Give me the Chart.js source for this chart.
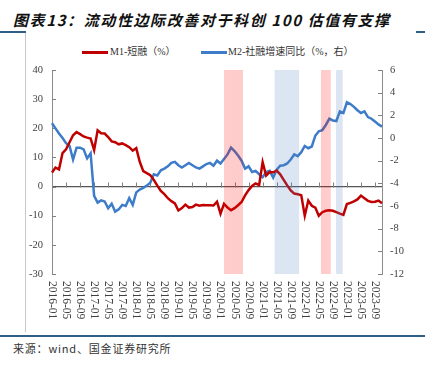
<!DOCTYPE html>
<html>
<head>
<meta charset="utf-8">
<script src="https://cdn.jsdelivr.net/npm/chart.js@4.4.0/dist/chart.umd.min.js"></script>
<style>
  html, body { margin: 0; padding: 0; background: #fff; }
  body { width: 425px; height: 367px; position: relative; overflow: hidden; font-family: "Liberation Serif", "Noto Sans CJK SC", serif; }
  #title { position: absolute; left: 13px; top: 10px; font: italic bold 15px "Noto Sans CJK SC", sans-serif; letter-spacing: 1.6px; color: #111; white-space: pre; line-height: 20px; }
  .rule { position: absolute; height: 2px; background: #2f5f86; }
  #frame { position: absolute; left: 25px; top: 33px; width: 1px; height: 299px; background: #c8c8c8; }
  .key { position: absolute; top: 51px; height: 3px; width: 26px; }
  .keytext { position: absolute; top: 45px; font-size: 10px; line-height: 14px; color: #333; white-space: nowrap; }
  #source { position: absolute; left: 13px; top: 340px; font: 11px "Noto Sans CJK SC", sans-serif; letter-spacing: 0.8px; color: #333; white-space: nowrap; }
  canvas { position: absolute; left: 0; top: 0; }
</style>
</head>
<body>
<div id="title">图表13：流动性边际改善对于科创 100 估值有支撑</div>
<div class="rule" style="left:0; top:31px; width:26px;"></div>
<div class="rule" style="left:416px; top:31px; width:9px;"></div>
<div id="frame"></div>
<div class="key" style="left:82px; background:#c00000;"></div>
<div class="keytext" style="left:110px;">M1-短融（%）</div>
<div class="key" style="left:201px; background:#3d7cc9;"></div>
<div class="keytext" style="left:228px;">M2-社融增速同比（%，右）</div>
<div class="rule" style="left:0; top:335px; width:425px;"></div>
<div id="source">来源：wind、国金证券研究所</div>
<canvas id="chart" width="425" height="367"></canvas>
<script>
// Months 2016-01 .. 2023-11
const months = [
  '2016-01','2016-02','2016-03','2016-04','2016-05','2016-06','2016-07','2016-08','2016-09','2016-10','2016-11','2016-12',
  '2017-01','2017-02','2017-03','2017-04','2017-05','2017-06','2017-07','2017-08','2017-09','2017-10','2017-11','2017-12',
  '2018-01','2018-02','2018-03','2018-04','2018-05','2018-06','2018-07','2018-08','2018-09','2018-10','2018-11','2018-12',
  '2019-01','2019-02','2019-03','2019-04','2019-05','2019-06','2019-07','2019-08','2019-09','2019-10','2019-11','2019-12',
  '2020-01','2020-02','2020-03','2020-04','2020-05','2020-06','2020-07','2020-08','2020-09','2020-10','2020-11','2020-12',
  '2021-01','2021-02','2021-03','2021-04','2021-05','2021-06','2021-07','2021-08','2021-09','2021-10','2021-11','2021-12',
  '2022-01','2022-02','2022-03','2022-04','2022-05','2022-06','2022-07','2022-08','2022-09','2022-10','2022-11','2022-12',
  '2023-01','2023-02','2023-03','2023-04','2023-05','2023-06','2023-07','2023-08','2023-09','2023-10','2023-11'
];

// x-axis labels shown (every 4 months)
const xTickLabels = [
  '2016-01','2016-05','2016-09','2017-01','2017-05','2017-09','2018-01','2018-05',
  '2018-09','2019-01','2019-05','2019-09','2020-01','2020-05','2020-09','2021-01',
  '2021-05','2021-09','2022-01','2022-05','2022-09','2023-01','2023-05','2023-09'
];

// M1-短融 (%), left axis
const m1Short = [
  4.8, 6.5, 5.9, 11.5, 12.8, 15.2, 17.6, 18.7, 18.0, 17.2, 16.8, 16.5,
  12.5, 19.3, 18.3, 18.2, 17.0, 15.5, 15.2, 14.5, 14.8, 14.2, 13.5, 12.3,
  13.2, 8.5, 5.3, 4.6, 3.9, 2.3, 0.3, -1.5, -2.6, -4.0, -5.0, -5.8,
  -8.2, -7.4, -6.2, -7.2, -7.0, -6.2, -6.6, -6.3, -6.4, -6.4, -6.5, -5.2,
  -9.3, -5.9, -7.2, -8.1, -7.4, -6.4, -5.3, -3.0, -1.2, 0.2, 1.1, 0.5,
  8.4, 3.8, 5.0, 4.9, 5.5, 4.2, 2.3, 0.4, -1.3, -2.4, -2.6, -3.0,
  -10.0, -4.8, -6.6, -7.2, -10.0, -8.8, -8.3, -8.1, -8.3, -8.8, -9.3, -9.7,
  -6.0, -5.6, -5.1, -4.4, -3.1, -4.0, -4.9, -5.3, -5.2, -4.8, -5.7
];

// M2-社融增速同比 (%), right axis
const m2VsTsf = [
  1.3, 0.85, 0.4, 0.0, -0.45, -0.7, -1.9, -0.85, -0.85, -1.0, -1.8, -1.35,
  -5.1, -5.7, -5.5, -5.6, -6.2, -5.8, -6.5, -6.3, -5.9, -6.0, -5.3, -5.9,
  -4.8, -4.55, -4.4, -4.2, -3.95, -3.2, -3.3, -2.85, -2.7, -2.5, -2.2, -2.1,
  -2.4, -2.6, -2.4, -2.2, -2.4, -2.6, -2.7, -2.5, -2.3, -2.2, -2.45, -2.0,
  -2.25, -1.85, -1.45, -0.85, -1.15, -1.55, -2.0, -2.7, -2.5, -3.0, -2.9, -3.2,
  -3.45, -3.0, -2.9, -3.5, -2.8, -2.45, -2.4, -2.25, -1.9, -1.45, -1.6, -1.25,
  -0.7, -0.9, -0.75, 0.2, 0.6, 0.7, 1.15, 1.7, 1.55, 1.5, 2.35, 2.2,
  3.15, 3.0, 2.75, 2.45, 2.2, 2.35, 1.85, 1.7, 1.45, 1.2, 1.0
];

// shaded periods, in month-index units
const bandFrom = [49.0, 63.4, 76.6, 80.9];
const bandTo = [54.4, 70.4, 79.4, 82.8];
const bandColors = ['rgba(255,0,0,0.2)', 'rgba(79,129,189,0.2)', 'rgba(255,0,0,0.2)', 'rgba(79,129,189,0.2)'];

const tickFont = { family: '"Liberation Serif", serif', size: 10.5 };

const decorations = {
  id: 'decorations',
  beforeDatasetsDraw(chart) {
    const { ctx, chartArea: a, scales: { x, y, y1 } } = chart;
    ctx.save();
    ctx.strokeStyle = '#808080';
    ctx.lineWidth = 1;
    ctx.beginPath();
    const y0 = Math.round(y.getPixelForValue(0)) + 0.5;
    xTickLabels.forEach(l => {
      const px = Math.round(x.getPixelForValue(l)) + 0.5;
      if (px > a.left + 2) { ctx.moveTo(px, y0); ctx.lineTo(px, y0 - 5); }
    });
    y.ticks.forEach(t => {
      const py = Math.round(y.getPixelForValue(t.value)) + 0.5;
      ctx.moveTo(a.left, py); ctx.lineTo(a.left + 4, py);
    });
    y1.ticks.forEach(t => {
      const py = Math.round(y1.getPixelForValue(t.value)) + 0.5;
      ctx.moveTo(a.right, py); ctx.lineTo(a.right - 4, py);
    });
    ctx.stroke();
    ctx.restore();
  },
  afterDatasetsDraw(chart) {
    const { ctx, chartArea: a, scales: { x } } = chart;
    ctx.save();
    bandFrom.forEach((f, i) => {
      const x1 = x.getPixelForValue(f);
      const x2 = x.getPixelForValue(bandTo[i]);
      ctx.fillStyle = bandColors[i];
      ctx.fillRect(x1, a.top, x2 - x1, a.bottom - a.top);
    });
    ctx.restore();
  },
  afterDraw(chart) {
    const { ctx, chartArea: a, scales: { x } } = chart;
    ctx.save();
    ctx.fillStyle = '#404040';
    ctx.font = '11.5px "Liberation Serif", serif';
    ctx.textAlign = 'left';
    ctx.textBaseline = 'middle';
    xTickLabels.forEach(l => {
      ctx.save();
      ctx.translate(x.getPixelForValue(l), a.bottom + 7);
      ctx.rotate(Math.PI / 2);
      ctx.fillText(l, 0, 0);
      ctx.restore();
    });
    ctx.restore();
  }
};

new Chart(document.getElementById('chart'), {
  type: 'line',
  data: {
    labels: months,
    datasets: [
      {
        label: 'M1-短融（%）',
        data: m1Short,
        yAxisID: 'y',
        borderColor: '#c00000',
        borderWidth: 2.5,
        pointRadius: 0,
        tension: 0
      },
      {
        label: 'M2-社融增速同比（%，右）',
        data: m2VsTsf,
        yAxisID: 'y1',
        borderColor: '#3d7cc9',
        borderWidth: 2.5,
        pointRadius: 0,
        tension: 0
      }
    ]
  },
  options: {
    responsive: false,
    animation: false,
    layout: { padding: { left: 22, right: 13, top: 70, bottom: 93 } },
    plugins: {
      legend: { display: false },
      tooltip: { enabled: false }
    },
    scales: {
      x: {
        ticks: { display: false },
        grid: { display: false },
        border: { display: false },
        afterFit: s => { s.height = 0; }
      },
      y: {
        position: 'left',
        min: -30,
        max: 40,
        ticks: { stepSize: 10, color: '#404040', font: tickFont, padding: 9 },
        grid: {
          drawTicks: false,
          color: c => c.tick && c.tick.value === 0 ? '#555555' : 'rgba(0,0,0,0)',
          lineWidth: 1.2
        },
        border: { display: true, color: '#8c8c8c', width: 1 },
        afterFit: s => { s.width = 30; }
      },
      y1: {
        position: 'right',
        min: -12,
        max: 6,
        ticks: { stepSize: 2, color: '#404040', font: tickFont, padding: 8 },
        grid: { display: false, drawTicks: false },
        border: { display: true, color: '#8c8c8c', width: 1 },
        afterFit: s => { s.width = 30; }
      }
    }
  },
  plugins: [decorations]
});
</script>
</body>
</html>
